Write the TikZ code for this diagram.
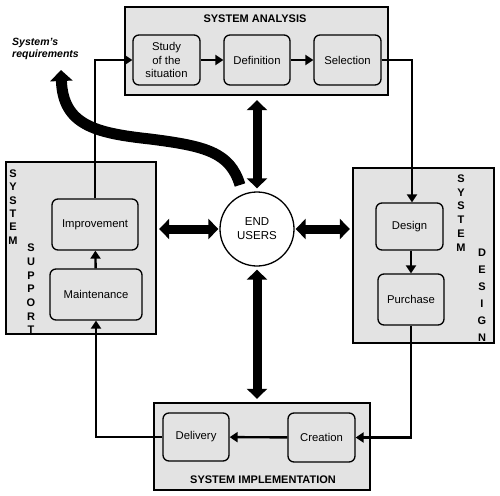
\documentclass[tikz,border=0pt]{standalone}
\usepackage{fontspec}
\setmainfont{Liberation Sans}
\usetikzlibrary{arrows.meta,calc}
\begin{document}
\begin{tikzpicture}[x=1pt,y=-1pt,
 outer/.style={draw, line width=2.4pt, fill=black!11, inner sep=0pt},
 inbox/.style={draw, line width=1.3pt, rounded corners=6pt, fill=black!11, align=center, font=\fontsize{11.3}{13.5}\selectfont, inner sep=0pt},
 flow/.style={line width=2.4pt, -{Triangle[length=8pt,width=10pt]}},
 big/.style={line width=9pt, {Triangle[length=10pt,width=20pt]}-{Triangle[length=10pt,width=20pt]}},
 boxtitle/.style={font=\fontsize{11}{13}\selectfont\bfseries, inner sep=0pt},
 vert/.style={align=center, inner sep=0pt}
]
\useasboundingbox (0,0) rectangle (500,495);

% outer boxes
\node[outer, minimum width=263pt, minimum height=88pt] (ana) at (256.5,51) {};
\node[outer, minimum width=141pt, minimum height=175pt] (des) at (423.5,255.5) {};
\node[outer, minimum width=216pt, minimum height=87pt] (imp) at (262,446.5) {};
\node[outer, minimum width=150pt, minimum height=172pt] (sup) at (81,248) {};

% titles
\node[boxtitle] (tana) at (255,19) {SYSTEM ANALYSIS};
\node[boxtitle] (timp) at (263,480) {SYSTEM IMPLEMENTATION};
\node[vert, font=\fontsize{11}{13.4}\selectfont\bfseries] (tsup1) at (13,207) {S\\Y\\S\\T\\E\\M};
\node[vert, font=\fontsize{11}{13.7}\selectfont\bfseries] (tsup2) at (31,289) {S\\U\\P\\P\\O\\R\\T};
\node[vert, font=\fontsize{11}{13.8}\selectfont\bfseries] (tdes1) at (461,213) {S\\Y\\S\\T\\E\\M};
\node[vert, font=\fontsize{11}{17}\selectfont\bfseries] (tdes2) at (482,295) {D\\E\\S\\I\\G\\N};

% inner boxes
\node[inbox, minimum width=67pt, minimum height=50pt] (study) at (166.5,60) {Study\\of the\\situation};
\node[inbox, minimum width=66pt, minimum height=50pt] (def) at (257,60) {Definition};
\node[inbox, minimum width=67pt, minimum height=50pt] (sel) at (347.5,60) {Selection};
\node[inbox, minimum width=67pt, minimum height=47pt] (design) at (409.5,226.5) {Design};
\node[inbox, minimum width=66pt, minimum height=51pt] (purch) at (411,299.5) {Purchase};
\node[inbox, minimum width=67pt, minimum height=49pt] (creat) at (321.5,437.5) {Creation};
\node[inbox, minimum width=66pt, minimum height=48pt] (deliv) at (196,437) {Delivery};
\node[inbox, minimum width=92pt, minimum height=51pt] (maint) at (96,294.5) {Maintenance};
\node[inbox, minimum width=86pt, minimum height=51pt] (impr) at (95,224.5) {Improvement};

% end users
\node[draw, circle, line width=1.3pt, fill=white, minimum size=74pt, inner sep=0pt, align=center,
      font=\fontsize{11.5}{14}\selectfont] (eu) at (257,229) {END\\USERS};

% requirement label
\node[align=left, inner sep=0pt, font=\fontsize{10.5}{12}\selectfont\bfseries\itshape] (req) at (45.5,49) {System's\\requirements};

% flow connectors
\draw[flow] (study) -- (def);
\draw[flow] (def) -- (sel);
\draw[flow] (sel.east) -| ($(design.north)+(2.5,0)$);
\draw[flow] (design.south -| purch.north) -- (purch.north);
\draw[flow] (purch.south) |- (creat.east);
\draw[flow] (creat) -- (deliv);
\draw[flow] (deliv.west) -| (maint.south);
\draw[flow] (maint) -- (impr);
\draw[flow] (impr.north) |- (study.west);

% big double arrows
\draw[big, shorten <=3pt, shorten >=4pt] (eu.north) -- (eu.north |- ana.south);
\draw[big, shorten <=3pt, shorten >=3pt] (eu.south) -- (eu.south |- imp.north);
\draw[big, shorten <=1pt, shorten >=2pt] (eu.west) -- (eu.west -| sup.east);
\draw[big, shorten <=1pt, shorten >=2pt] (eu.east) -- (eu.east -| des.west);

% curved arrow to system's requirements
\coordinate (c0) at (240,185);
\coordinate (reqtip) at (61,70);
\draw[line width=11pt, -{Triangle[length=11pt,width=22pt]}]
  (c0) .. controls (230,152) and (205,146) .. (150,139)
       .. controls (95,133) and (63,125) .. (reqtip);
\end{tikzpicture}
\end{document}
